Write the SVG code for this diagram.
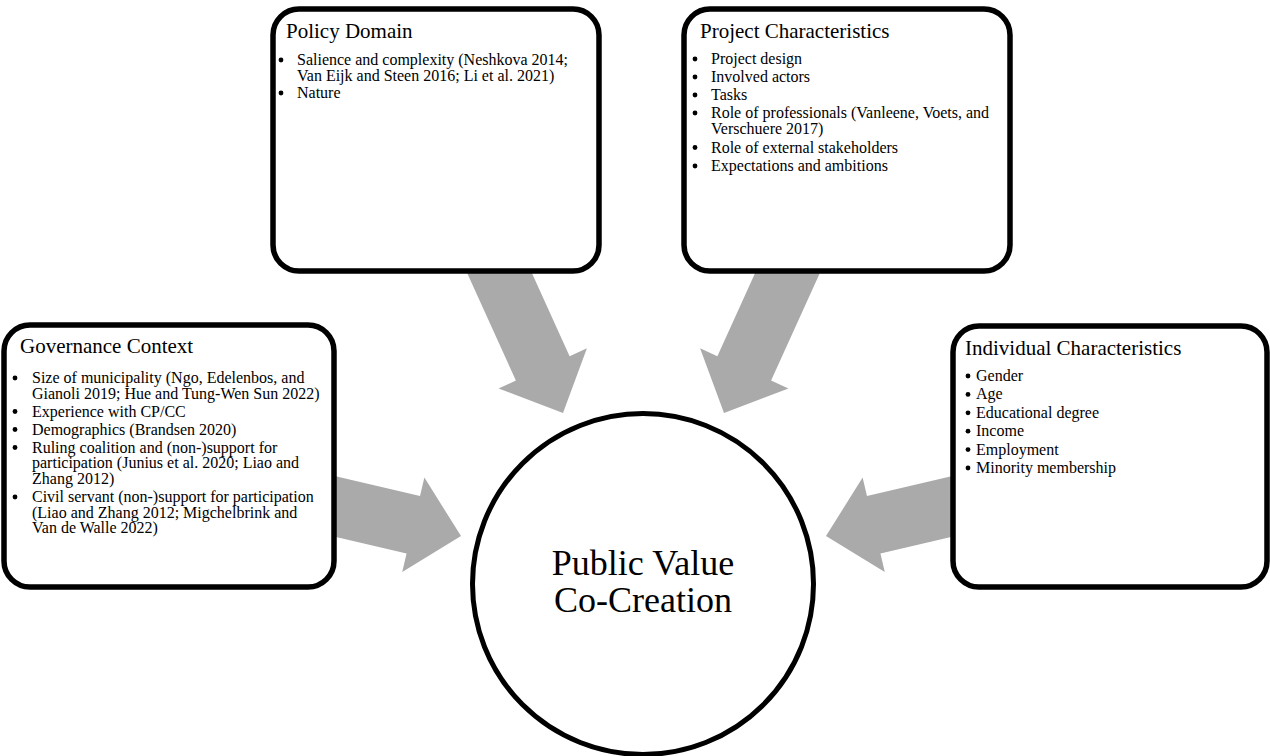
<svg xmlns="http://www.w3.org/2000/svg" width="1270" height="756" viewBox="0 0 1270 756">
<style>
.box{fill:#fff;stroke:#000;stroke-width:5.5}
.arr{fill:#aaaaaa;stroke:none}
.dot{fill:#000}
.title{font-family:"Liberation Serif","Times New Roman",serif;font-size:21px;fill:#000}
.item{font-family:"Liberation Serif","Times New Roman",serif;font-size:16px;fill:#000}
.big{font-family:"Liberation Serif","Times New Roman",serif;font-size:36px;fill:#000;text-anchor:middle}
</style>
<defs>
<path id="arrowL175" d="M-175,-29.5 L-49,-29.5 L-49,-48.5 L0,0 L-49,48.5 L-49,29.5 L-175,29.5 Z"/>
<path id="arrowL150" d="M-150,-29.5 L-49,-29.5 L-49,-48.5 L0,0 L-49,48.5 L-49,29.5 L-150,29.5 Z"/>
</defs>
<rect width="1270" height="756" fill="#fff"/>
<g id="connectors">
<use href="#arrowL175" class="arr" transform="translate(563,413) rotate(65.6)"/>
<use href="#arrowL175" class="arr" transform="translate(724,413) rotate(114.4)"/>
<use href="#arrowL150" class="arr" transform="translate(461,536) rotate(13.2)"/>
<use href="#arrowL150" class="arr" transform="translate(826,536) rotate(166.8)"/>
</g>
<g id="policy-domain">
<rect class="box" x="273" y="9" width="326" height="262" rx="26"/>
<text class="title" x="286" y="38">Policy Domain</text>
<circle class="dot" cx="281" cy="60" r="2.4"/>
<text class="item" x="297" y="65">Salience and complexity (Neshkova 2014;</text>
<text class="item" x="297" y="80.5">Van Eijk and Steen 2016; Li et al. 2021)</text>
<circle class="dot" cx="281" cy="93" r="2.4"/>
<text class="item" x="297" y="98">Nature</text>
</g>
<g id="project-characteristics">
<rect class="box" x="684" y="9" width="326" height="262" rx="26"/>
<text class="title" x="700" y="38">Project Characteristics</text>
<circle class="dot" cx="695" cy="59" r="2.4"/>
<text class="item" x="711" y="64">Project design</text>
<circle class="dot" cx="695" cy="77" r="2.4"/>
<text class="item" x="711" y="82">Involved actors</text>
<circle class="dot" cx="695" cy="95" r="2.4"/>
<text class="item" x="711" y="100">Tasks</text>
<circle class="dot" cx="695" cy="113" r="2.4"/>
<text class="item" x="711" y="118">Role of professionals (Vanleene, Voets, and</text>
<text class="item" x="711" y="133.5">Verschuere 2017)</text>
<circle class="dot" cx="695" cy="147.5" r="2.4"/>
<text class="item" x="711" y="152.5">Role of external stakeholders</text>
<circle class="dot" cx="695" cy="166" r="2.4"/>
<text class="item" x="711" y="171">Expectations and ambitions</text>
</g>
<g id="governance-context">
<rect class="box" x="4" y="325" width="330" height="262" rx="26"/>
<text class="title" x="20" y="353">Governance Context</text>
<circle class="dot" cx="15" cy="378" r="2.4"/>
<text class="item" x="32" y="383">Size of municipality (Ngo, Edelenbos, and</text>
<text class="item" x="32" y="398.5">Gianoli 2019; Hue and Tung-Wen Sun 2022)</text>
<circle class="dot" cx="15" cy="411.5" r="2.4"/>
<text class="item" x="32" y="416.5">Experience with CP/CC</text>
<circle class="dot" cx="15" cy="429.5" r="2.4"/>
<text class="item" x="32" y="434.5">Demographics (Brandsen 2020)</text>
<circle class="dot" cx="15" cy="447.5" r="2.4"/>
<text class="item" x="32" y="452.5">Ruling coalition and (non-)support for</text>
<text class="item" x="32" y="468">participation (Junius et al. 2020; Liao and</text>
<text class="item" x="32" y="483.5">Zhang 2012)</text>
<circle class="dot" cx="15" cy="497" r="2.4"/>
<text class="item" x="32" y="502">Civil servant (non-)support for participation</text>
<text class="item" x="32" y="517.5">(Liao and Zhang 2012; Migchelbrink and</text>
<text class="item" x="32" y="533">Van de Walle 2022)</text>
</g>
<g id="individual-characteristics">
<rect class="box" x="953" y="326" width="314" height="261" rx="26"/>
<text class="title" x="965" y="355">Individual Characteristics</text>
<circle class="dot" cx="968" cy="376" r="2.4"/>
<text class="item" x="976" y="381">Gender</text>
<circle class="dot" cx="968" cy="394.4" r="2.4"/>
<text class="item" x="976" y="399.4">Age</text>
<circle class="dot" cx="968" cy="412.8" r="2.4"/>
<text class="item" x="976" y="417.8">Educational degree</text>
<circle class="dot" cx="968" cy="431.2" r="2.4"/>
<text class="item" x="976" y="436.2">Income</text>
<circle class="dot" cx="968" cy="449.6" r="2.4"/>
<text class="item" x="976" y="454.6">Employment</text>
<circle class="dot" cx="968" cy="468" r="2.4"/>
<text class="item" x="976" y="473">Minority membership</text>
</g>
<g id="public-value-co-creation">
<circle cx="643" cy="584" r="170.5" fill="#fff" stroke="#000" stroke-width="5"/>
<text class="big" x="643" y="575">Public Value</text>
<text class="big" x="643" y="612">Co-Creation</text>
</g>
</svg>
